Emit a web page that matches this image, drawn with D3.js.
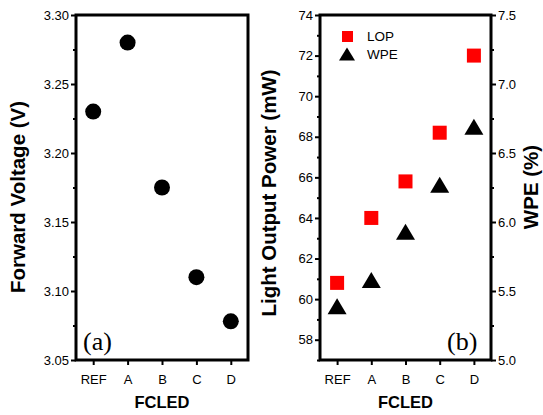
<!DOCTYPE html>
<html>
<head>
<meta charset="utf-8">
<script src="https://cdn.jsdelivr.net/npm/d3@7"></script>
<style>
  body { margin: 0; background: #fff; }
  svg { display: block; font-family: "Liberation Sans", Arial, sans-serif; }
</style>
</head>
<body>
<svg width="543" height="415"></svg>
<script>
const categories = ["REF", "A", "B", "C", "D"];
const voltage = [3.23, 3.28, 3.175, 3.11, 3.078];
const lop = [60.8, 64.0, 65.8, 68.2, 72.0];
const wpe = [5.39, 5.58, 5.93, 6.27, 6.69];

const voltageTicks = [3.05, 3.10, 3.15, 3.20, 3.25, 3.30];
const voltageMinor = [3.075, 3.125, 3.175, 3.225, 3.275];
const lopTicks = [58, 60, 62, 64, 66, 68, 70, 72, 74];
const lopMinor = [57, 59, 61, 63, 65, 67, 69, 71, 73];
const wpeTicks = [5.0, 5.5, 6.0, 6.5, 7.0, 7.5];
const wpeMinor = [5.25, 5.75, 6.25, 6.75, 7.25];

const svg = d3.select("svg");
const yTop = 15, yBottom = 360;

const tri = (w, h) => `M0,${-h / 2}L${w / 2},${h / 2}L${-w / 2},${h / 2}Z`;

function styleAxis(g) {
    g.select(".domain").remove();
    g.selectAll(".tick line").attr("stroke", "#000").attr("stroke-width", 2);
    g.selectAll(".tick text").attr("font-size", 13).attr("fill", "#000")
        .attr("font-family", "Liberation Sans, Arial, sans-serif");
}

function yTitle(x, y, label) {
    svg.append("text")
        .attr("transform", `translate(${x},${y}) rotate(-90)`)
        .attr("text-anchor", "middle")
        .attr("font-size", 20.5).attr("font-weight", "bold")
        .text(label);
}

function panel(x0, x1) {
    const x = d3.scaleLinear().domain([-0.5, 4.5]).range([x0, x1]);
    const g = svg.append("g");
    g.append("g")
        .attr("transform", `translate(0,${yBottom})`)
        .call(d3.axisBottom(x).tickValues(d3.range(categories.length))
            .tickFormat(i => categories[i]).tickSize(5).tickPadding(10).tickSizeOuter(0))
        .call(styleAxis);
    g.append("text")
        .attr("x", (x0 + x1) / 2).attr("y", 408)
        .attr("text-anchor", "middle")
        .attr("font-size", 16.5).attr("font-weight", "bold")
        .text("FCLED");
    return { x, g };
}

// ---- panel (a)
const a = panel(76, 248);
const yV = d3.scaleLinear().domain([3.05, 3.30]).range([yBottom, yTop]);

a.g.append("g").attr("transform", "translate(76,0)")
    .call(d3.axisLeft(yV).tickValues(voltageMinor).tickSize(3).tickFormat(""))
    .call(styleAxis);
a.g.append("g").attr("transform", "translate(76,0)")
    .call(d3.axisLeft(yV).tickValues(voltageTicks).tickSize(5).tickPadding(2)
        .tickFormat(d3.format(".2f")))
    .call(styleAxis);

a.g.append("rect")
    .attr("x", 76).attr("y", yTop).attr("width", 248 - 76).attr("height", yBottom - yTop)
    .attr("fill", "none").attr("stroke", "#000").attr("stroke-width", 3);

a.g.selectAll("circle.v")
    .data(voltage)
    .enter().append("circle")
    .attr("class", "v")
    .attr("cx", (d, i) => a.x(i))
    .attr("cy", d => yV(d))
    .attr("r", 8)
    .attr("fill", "#000");

a.g.append("text")
    .attr("x", 83).attr("y", 350)
    .attr("font-family", "Liberation Serif, Times New Roman, serif")
    .attr("font-size", 26)
    .text("(a)");

yTitle(25, 197, "Forward Voltage (V)");

// ---- panel (b)
const b = panel(320, 491);
const yL = d3.scaleLinear().domain([57, 74]).range([yBottom, yTop]);
const yW = d3.scaleLinear().domain([5.0, 7.5]).range([yBottom, yTop]);

b.g.append("g").attr("transform", "translate(320,0)")
    .call(d3.axisLeft(yL).tickValues(lopMinor).tickSize(3).tickFormat(""))
    .call(styleAxis);
b.g.append("g").attr("transform", "translate(320,0)")
    .call(d3.axisLeft(yL).tickValues(lopTicks).tickSize(5).tickPadding(2))
    .call(styleAxis);
b.g.append("g").attr("transform", "translate(491,0)")
    .call(d3.axisRight(yW).tickValues(wpeMinor).tickSize(3).tickFormat(""))
    .call(styleAxis);
b.g.append("g").attr("transform", "translate(491,0)")
    .call(d3.axisRight(yW).tickValues(wpeTicks).tickSize(5).tickPadding(2)
        .tickFormat(d3.format(".1f")))
    .call(styleAxis);

b.g.append("rect")
    .attr("x", 320).attr("y", yTop).attr("width", 491 - 320).attr("height", yBottom - yTop)
    .attr("fill", "none").attr("stroke", "#000").attr("stroke-width", 3);

b.g.selectAll("rect.lop")
    .data(lop)
    .enter().append("rect")
    .attr("class", "lop")
    .attr("x", (d, i) => b.x(i) - 7)
    .attr("y", d => yL(d) - 7)
    .attr("width", 14).attr("height", 14)
    .attr("fill", "#ff0000");

b.g.selectAll("path.wpe")
    .data(wpe)
    .enter().append("path")
    .attr("class", "wpe")
    .attr("d", tri(19, 16))
    .attr("transform", (d, i) => `translate(${b.x(i)},${yW(d)})`)
    .attr("fill", "#000");

// legend
const legend = b.g.append("g");
legend.append("rect")
    .attr("x", 342).attr("y", 31).attr("width", 11).attr("height", 11)
    .attr("fill", "#ff0000");
legend.append("text").attr("x", 367).attr("y", 41).attr("font-size", 13.5).text("LOP");
legend.append("path").attr("d", tri(16, 13))
    .attr("transform", "translate(347,54)").attr("fill", "#000");
legend.append("text").attr("x", 367).attr("y", 59).attr("font-size", 13.5).text("WPE");

b.g.append("text")
    .attr("x", 447).attr("y", 350)
    .attr("font-family", "Liberation Serif, Times New Roman, serif")
    .attr("font-size", 26)
    .text("(b)");

yTitle(276, 193, "Light Output Power (mW)");
yTitle(538, 187, "WPE (%)");
</script>
</body>
</html>
